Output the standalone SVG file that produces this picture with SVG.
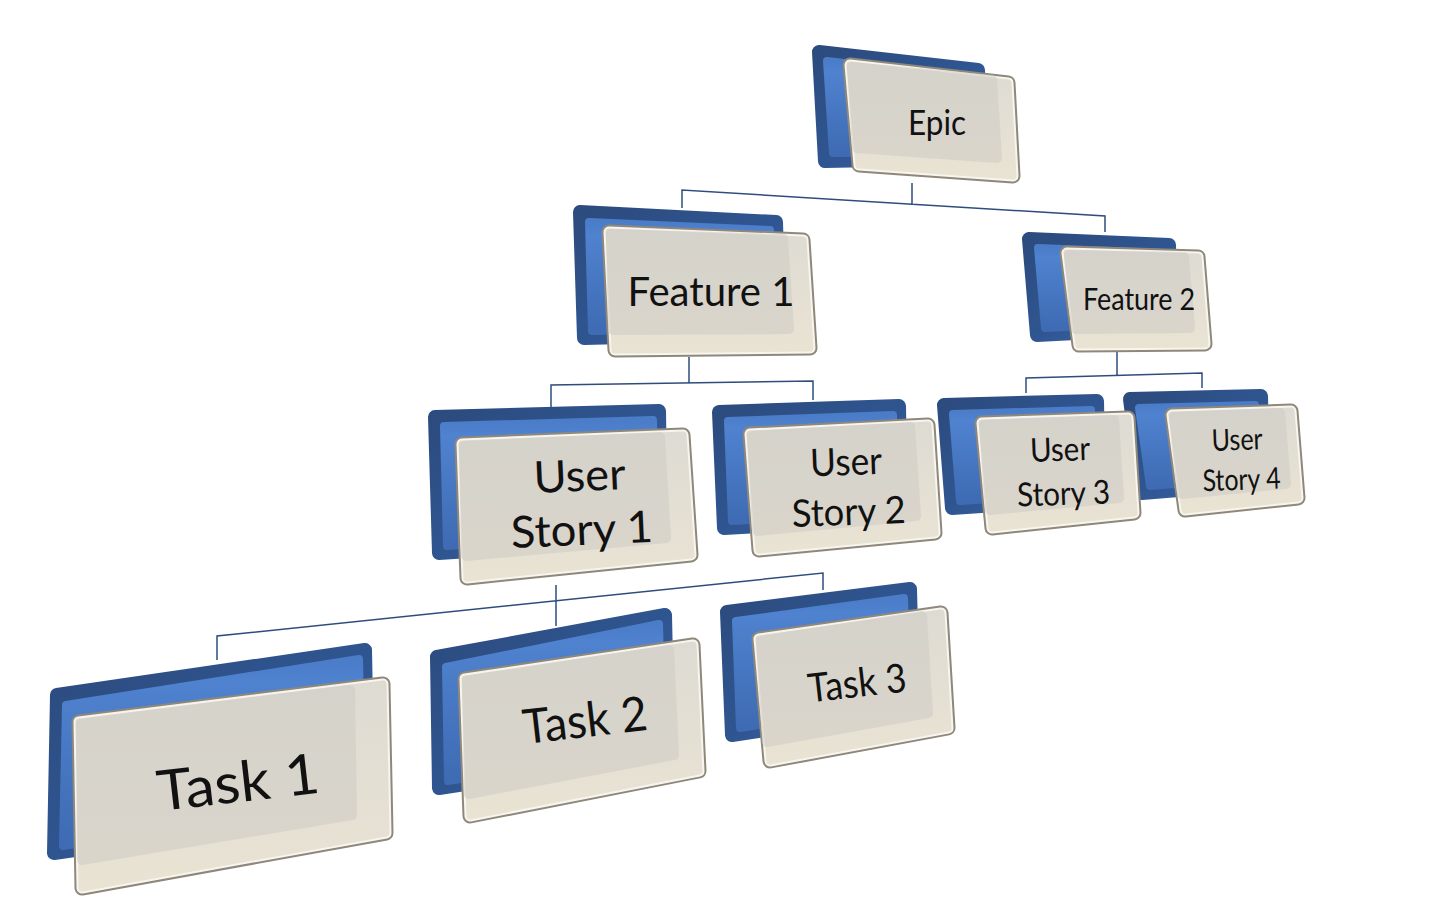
<svg xmlns="http://www.w3.org/2000/svg" width="1438" height="920" viewBox="0 0 1438 920">
<defs>
<linearGradient id="blueG" x1="0" y1="0" x2="0" y2="1">
<stop offset="0" stop-color="#4a7cc8"/>
<stop offset="0.12" stop-color="#4f82cf"/>
<stop offset="1" stop-color="#3e6bb3"/>
</linearGradient>
<linearGradient id="blueO" x1="0" y1="0" x2="1" y2="1">
<stop offset="0" stop-color="#2c4b7e"/>
<stop offset="0.5" stop-color="#2f5590"/>
<stop offset="1" stop-color="#3a66aa"/>
</linearGradient>
<linearGradient id="cardG" x1="0" y1="0" x2="0" y2="1">
<stop offset="0" stop-color="#dedbd3"/>
<stop offset="1" stop-color="#e9e3d3"/>
</linearGradient>
</defs>
<style>
.bo{fill:url(#blueO);stroke:url(#blueO);stroke-width:14;stroke-linejoin:round}
.bi{fill:url(#blueG);stroke:url(#blueG);stroke-width:8;stroke-linejoin:round}
.f1{fill:#8f887a;stroke:#8f887a;stroke-width:15;stroke-linejoin:round}
.f2{fill:#f7f5ef;stroke:#f7f5ef;stroke-width:11;stroke-linejoin:round}
.f3{fill:url(#cardG);stroke:url(#cardG);stroke-width:7;stroke-linejoin:round}
.fi{fill:#cfccc5;stroke:#cfccc5;stroke-width:10;stroke-linejoin:round;opacity:0.55}
.t{font-family:Lato,"Open Sans","Liberation Sans",sans-serif;fill:#111;text-anchor:middle}
.c{fill:none;stroke:#2e4d7d;stroke-width:1.5}
</style>
<rect width="1438" height="920" fill="#ffffff"/>
<g id="connectors">
<path class="c" d="M912,183 V204 M682,208 V190 L1105,216 V232"/>
<path class="c" d="M689,357 V383 M551,408 V385 L813,381 V400"/>
<path class="c" d="M1117,352 V376 M1026,393 V378 L1202,373 V388"/>
<path class="c" d="M556,585 V626 M217,660 V636 L823,573 V590"/>
</g>
<g id="epic">
<polygon class="bo" points="819,52 978,70 981,158 825,161"/>
<polygon class="bi" points="827,61 972,78 975,152 833,153"/>
<polygon class="f1" points="850,65 1008,83 1013,176 859,165"/>
<polygon class="f2" points="850,65 1008,83 1013,176 859,165"/>
<polygon class="f3" points="850,65 1008,83 1013,176 859,165"/>
<polygon class="fi" points="852,67 992,80 997,158 857,148"/>
<text class="t" x="937" y="135" font-size="34" textLength="58" lengthAdjust="spacingAndGlyphs">Epic</text>
</g>
<g id="feature1">
<polygon class="bo" points="580,212 776,222 779,333 584,338"/>
<polygon class="bi" points="589,222 770,230 773,327 592,331"/>
<polygon class="f1" points="609,232 803,240 810,348 615,350"/>
<polygon class="f2" points="609,232 803,240 810,348 615,350"/>
<polygon class="f3" points="609,232 803,240 810,348 615,350"/>
<polygon class="fi" points="611,234 783,239 789,329 613,330"/>
<text class="t" x="711" y="306" font-size="40" textLength="167" lengthAdjust="spacingAndGlyphs">Feature 1</text>
</g>
<g id="feature2">
<polygon class="bo" points="1029,239 1169,245 1171,328 1037,335"/>
<polygon class="bi" points="1038,248 1163,253 1165,322 1045,328"/>
<polygon class="f1" points="1067,253 1198,257 1205,344 1079,345"/>
<polygon class="f2" points="1067,253 1198,257 1205,344 1079,345"/>
<polygon class="f3" points="1067,253 1198,257 1205,344 1079,345"/>
<polygon class="fi" points="1069,255 1184,257 1190,328 1076,329"/>
<text class="t" x="1139" y="310" font-size="30" textLength="112" lengthAdjust="spacingAndGlyphs">Feature 2</text>
</g>
<g id="userstory4">
<polygon class="bo" points="1130,399 1261,396 1263,483 1142,493"/>
<polygon class="bi" points="1139,408 1255,405 1257,477 1150,486"/>
<polygon class="f1" points="1172,415 1291,411 1298,498 1185,510"/>
<polygon class="f2" points="1172,415 1291,411 1298,498 1185,510"/>
<polygon class="f3" points="1172,415 1291,411 1298,498 1185,510"/>
<polygon class="fi" points="1174,417 1280,413 1286,484 1182,494"/>
<g transform="rotate(-2 1239 465)">
<text class="t" x="1238" y="450" font-size="30" textLength="51" lengthAdjust="spacingAndGlyphs">User</text>
<text class="t" x="1241" y="490" font-size="30" textLength="78" lengthAdjust="spacingAndGlyphs">Story 4</text>
</g>
</g>
<g id="userstory3">
<polygon class="bo" points="944,405 1097,401 1099,498 952,508"/>
<polygon class="bi" points="953,414 1091,410 1093,492 960,501"/>
<polygon class="f1" points="982,423 1128,418 1134,513 992,528"/>
<polygon class="f2" points="982,423 1128,418 1134,513 992,528"/>
<polygon class="f3" points="982,423 1128,418 1134,513 992,528"/>
<polygon class="fi" points="984,425 1114,420 1119,498 990,510"/>
<g transform="rotate(-2 1062 478)">
<text class="t" x="1061" y="461" font-size="33" textLength="60" lengthAdjust="spacingAndGlyphs">User</text>
<text class="t" x="1063" y="505" font-size="33" textLength="93" lengthAdjust="spacingAndGlyphs">Story 3</text>
</g>
</g>
<g id="userstory2">
<polygon class="bo" points="719,412 899,406 901,518 724,528"/>
<polygon class="bi" points="728,421 893,415 895,512 732,521"/>
<polygon class="f1" points="750,434 928,425 935,533 759,550"/>
<polygon class="f2" points="750,434 928,425 935,533 759,550"/>
<polygon class="f3" points="750,434 928,425 935,533 759,550"/>
<polygon class="fi" points="752,436 910,427 916,516 757,531"/>
<g transform="rotate(-2 848 490)">
<text class="t" x="847" y="475" font-size="38" textLength="72" lengthAdjust="spacingAndGlyphs">User</text>
<text class="t" x="848" y="525" font-size="38" textLength="114" lengthAdjust="spacingAndGlyphs">Story 2</text>
</g>
</g>
<g id="userstory1">
<polygon class="bo" points="435,417 659,411 661,538 439,553"/>
<polygon class="bi" points="444,426 653,420 655,532 447,546"/>
<polygon class="f1" points="462,444 683,435 691,555 467,578"/>
<polygon class="f2" points="462,444 683,435 691,555 467,578"/>
<polygon class="f3" points="462,444 683,435 691,555 467,578"/>
<polygon class="fi" points="464,446 660,437 666,538 466,556"/>
<g transform="rotate(-2.5 581 510)">
<text class="t" x="581" y="491" font-size="44" textLength="92" lengthAdjust="spacingAndGlyphs">User</text>
<text class="t" x="581" y="545" font-size="44" textLength="142" lengthAdjust="spacingAndGlyphs">Story 1</text>
</g>
</g>
<g id="task3">
<polygon class="bo" points="727,612 910,589 913,708 732,735"/>
<polygon class="bi" points="736,621 904,598 907,702 740,728"/>
<polygon class="f1" points="759,639 941,613 948,728 770,761"/>
<polygon class="f2" points="759,639 941,613 948,728 770,761"/>
<polygon class="f3" points="759,639 941,613 948,728 770,761"/>
<polygon class="fi" points="761,641 922,616 928,713 767,742"/>
<text class="t" x="857" y="697" font-size="40" textLength="99" lengthAdjust="spacingAndGlyphs" transform="rotate(-6.5 857 683)">Task 3</text>
</g>
<g id="task2">
<polygon class="bo" points="437,657 665,615 668,753 439,788"/>
<polygon class="bi" points="446,667 659,624 662,747 448,781"/>
<polygon class="f1" points="465,679 693,645 699,771 470,816"/>
<polygon class="f2" points="465,679 693,645 699,771 470,816"/>
<polygon class="f3" points="465,679 693,645 699,771 470,816"/>
<polygon class="fi" points="467,681 669,650 674,755 469,794"/>
<text class="t" x="585" y="737" font-size="48" textLength="125" lengthAdjust="spacingAndGlyphs" transform="rotate(-6.5 585 720)">Task 2</text>
</g>
<g id="task1">
<polygon class="bo" points="57,695 365,650 368,808 54,853"/>
<polygon class="bi" points="66,705 359,659 362,802 63,846"/>
<polygon class="f1" points="79,722 383,684 386,833 82,888"/>
<polygon class="f2" points="79,722 383,684 386,833 82,888"/>
<polygon class="f3" points="79,722 383,684 386,833 82,888"/>
<polygon class="fi" points="81,724 350,690 352,815 82,860"/>
<text class="t" x="238" y="802" font-size="56" textLength="163" lengthAdjust="spacingAndGlyphs" transform="rotate(-6.5 238 782)">Task 1</text>
</g>
</svg>
